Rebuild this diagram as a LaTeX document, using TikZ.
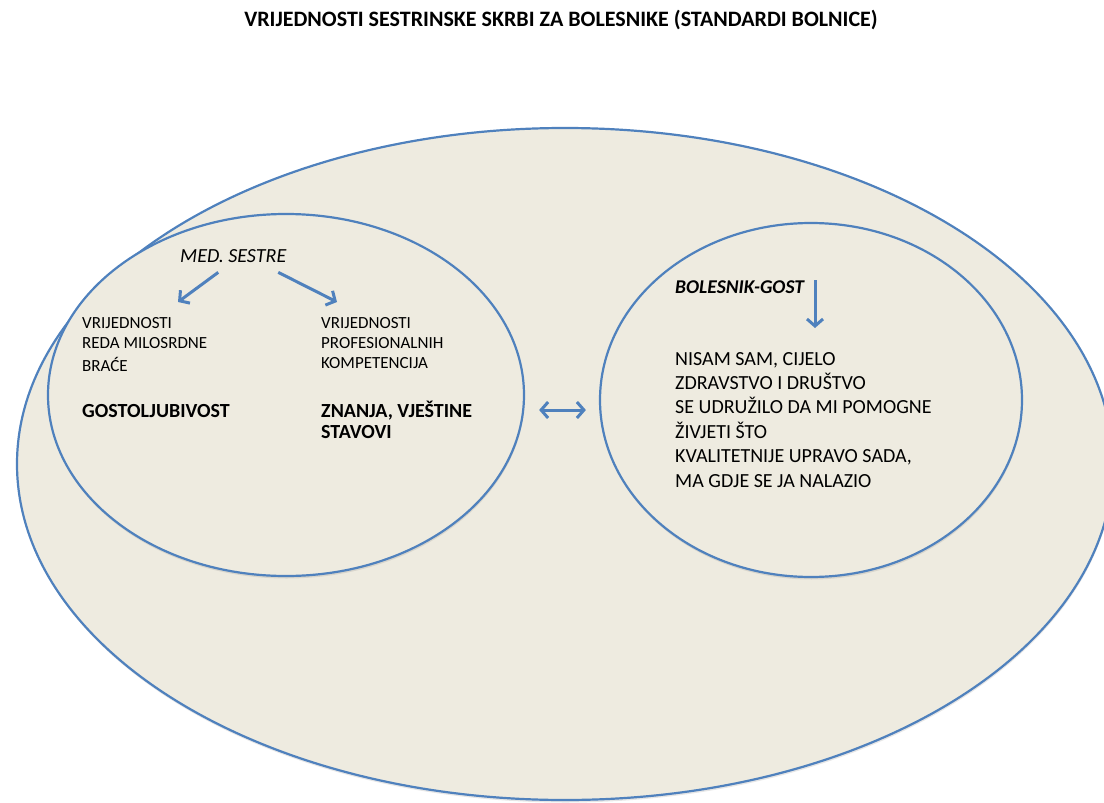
\documentclass[tikz,border=0pt]{standalone}
\usepackage{fontspec}
\setmainfont{Carlito}
\usepackage{xcolor}
\usetikzlibrary{shapes.geometric,arrows.meta,shadows}
\definecolor{ovalfill}{HTML}{EEEBE0}
\definecolor{ovalline}{HTML}{4F81BD}

\begin{document}
\begin{tikzpicture}[x=1pt, y=-1pt,
    oval/.style={ellipse, draw=ovalline, line width=2.2pt, fill=ovalfill, inner sep=0pt,
        drop shadow={opacity=0.2, shadow xshift=0.5pt, shadow yshift=-2.5pt}},
    arr/.style={draw=ovalline, line width=3pt, -{Straight Barb[length=7pt, width=16pt]}},
    dblarr/.style={draw=ovalline, line width=3pt, {Straight Barb[length=7pt, width=16pt]}-{Straight Barb[length=7pt, width=16pt]}},
    small/.style={anchor=north west, inner sep=0pt, align=left, font=\fontsize{17}{20}\selectfont},
    big/.style={anchor=base west, inner sep=0pt, font=\bfseries\fontsize{20}{22}\selectfont}]
    \useasboundingbox (0,0) rectangle (1104,803);

    % Title
    \node[anchor=base, inner sep=0pt, font=\bfseries\fontsize{22}{26}\selectfont] (title) at (561,27)
        {VRIJEDNOSTI SESTRINSKE SKRBI ZA BOLESNIKE (STANDARDI BOLNICE)};

    % Ovals: whole hospital, nurses, patient
    \node[oval, minimum width=1096, minimum height=672] (hospital) at (565,464) {};
    \node[oval, minimum width=476, minimum height=362] (nurse) at (286,395) {};
    \node[oval, minimum width=422, minimum height=354] (patient) at (811,400) {};

    % Nurses' side
    \node[anchor=base west, inner sep=0pt, font=\itshape\fontsize{20}{24}\selectfont] (med) at (180,262) {MED. SESTRE};
    \node[small] (order) at (82,317) {VRIJEDNOSTI\\ REDA MILOSRDNE\\[3pt] BRAĆE};
    \node[big] (hosp) at (82,417) {GOSTOLJUBIVOST};
    \node[small] (prof) at (321,317) {VRIJEDNOSTI\\ PROFESIONALNIH\\ KOMPETENCIJA};
    \node[big] (skills) at (321,417) {ZNANJA, VJEŠTINE};
    \node[big] (attit) at (321,438) {STAVOVI};

    % Patient's side
    \node[anchor=base west, inner sep=0pt, font=\bfseries\itshape\fontsize{19.5}{23}\selectfont] (guest) at (675,293) {BOLESNIK-GOST};
    \node[anchor=north west, inner sep=0pt, align=left, font=\fontsize{20}{24.4}\selectfont] (notalone) at (675,352)
        {NISAM SAM, CIJELO\\ ZDRAVSTVO I DRUŠTVO\\ SE UDRUŽILO DA MI POMOGNE\\ ŽIVJETI ŠTO\\ KVALITETNIJE UPRAVO SADA,\\ MA GDJE SE JA NALAZIO};

    % Arrows
    \coordinate (lefttip) at (178,302);
    \coordinate (righttip) at (337,302);
    \coordinate (guesttip) at (815,328);
    \coordinate (midrow) at (0,410);
    \draw[arr] ([shift={(-15,10)}]med.south) -- (lefttip);
    \draw[arr] ([shift={(45,10)}]med.south) -- (righttip);
    \draw[arr] (guesttip |- guest.north) -- (guesttip);
    \draw[dblarr, shorten <=14pt, shorten >=13pt] (nurse.east |- midrow) -- (patient.west |- midrow);
\end{tikzpicture}
\end{document}
